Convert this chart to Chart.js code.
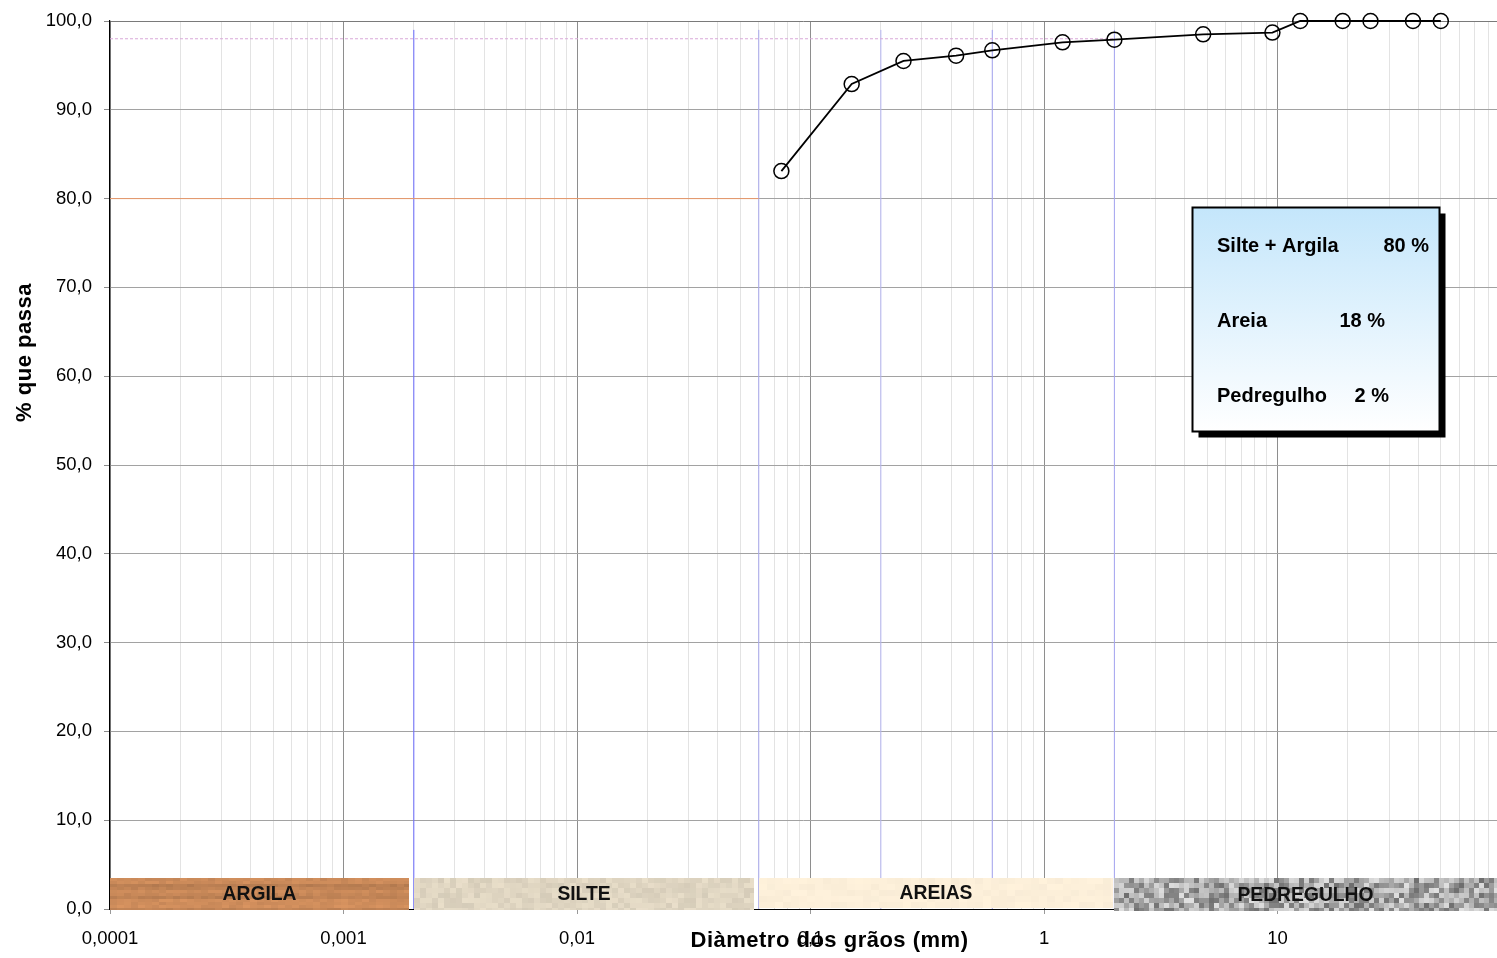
<!DOCTYPE html>
<html><head><meta charset="utf-8">
<script src="https://cdn.jsdelivr.net/npm/chart.js@4.4.0/dist/chart.umd.min.js"></script>
<style>html,body{margin:0;padding:0;background:#fff;overflow:hidden}canvas{display:block}</style>
</head><body>
<canvas id="c" width="1497" height="958"></canvas>
<script>
// ---- data ----
const sieveSizes = [0.075, 0.15, 0.25, 0.42, 0.6, 1.2, 2.0, 4.8, 9.5, 12.5, 19, 25, 38, 50];
const percentPassing = [83.1, 92.9, 95.5, 96.1, 96.7, 97.6, 97.9, 98.5, 98.7, 100, 100, 100, 100, 100];
const decadeValues = [0.0001, 0.001, 0.01, 0.1, 1, 10];
const decadeLabels = ['0,0001', '0,001', '0,01', '0,1', '1', '10'];
const xMin = 0.0001, xMax = 87;
const yMin = 0, yMax = 100, yStep = 10;
const boundaryLines = [0.002, 0.06, 0.2, 0.6, 2.0];
const boundaryTop = 99;
const finesLevel = 80, finesLineEnd = 0.06;
const refLevel = 98, refLineEnd = 2.0;
const bandNames = ['ARGILA', 'SILTE', 'AREIAS', 'PEDREGULHO'];
const bandFrom = [0.0001, 0.002, 0.06, 2.0];
const bandTo = [0.0019, 0.057, 1.97, 87];
const bandTop = 3.5;
const legendLabels = ['Silte + Argila', 'Areia', 'Pedregulho'];
const legendValues = [80, 18, 2];
const xTitle = 'Diàmetro dos grãos (mm)';
const yTitle = '% que passa';

// ---- styles ----
const FONT = '"Liberation Sans", Arial, Helvetica, sans-serif';
const boundaryColors = ['#6b6bff', '#a9a9ee', '#b8b8f4', '#a4a4f2', '#a4a4f2'];
const bandStyle = [
  {base: [201, 137, 89], bw: 7, bh: 3, kind: 'wood', bottomOff: 1},
  {base: [223, 213, 193], bw: 6, bh: 5, kind: 'noise', amp: 0.09, bottomOff: 1},
  {base: [252, 239, 217], bw: 8, bh: 6, kind: 'noise', amp: 0.025, bottomOff: -1},
  {base: [0, 0, 0], bw: 5, bh: 5, kind: 'gravel', bottomOff: 2}
];
function hash(i, j, s) {
  const v = Math.sin(i * 127.1 + j * 311.7 + s * 74.7) * 43758.5453;
  return v - Math.floor(v);
}
function isDecade(v) { return decadeValues.findIndex(d => Math.abs(v / d - 1) < 1e-6); }

const bandsPlugin = {
  id: 'bands',
  afterDatasetsDraw(chart) {
    const {ctx, scales: {x, y}, chartArea} = chart;
    ctx.save();
    bandNames.forEach((name, b) => {
      const st = bandStyle[b];
      const x0 = Math.round(x.getPixelForValue(bandFrom[b]));
      const x1 = Math.min(Math.round(x.getPixelForValue(bandTo[b])), chartArea.right);
      const y0 = Math.round(y.getPixelForValue(bandTop));
      const y1 = Math.round(y.getPixelForValue(0)) + st.bottomOff;
      for (let r = 0, yy = y0; yy < y1; r++, yy += st.bh) {
        const rowF = 0.9 + 0.16 * hash(r, 3, b + 1);
        for (let c = 0, xx = x0; xx < x1; c++, xx += st.bw) {
          const h = hash(c, r, b + 7);
          let col;
          if (st.kind === 'wood') {
            const f = rowF * (0.96 + 0.08 * h);
            col = st.base.map(v => Math.max(0, Math.min(255, Math.round(v * f))));
          } else if (st.kind === 'noise') {
            const f = 1 - st.amp / 2 + st.amp * h;
            col = st.base.map(v => Math.max(0, Math.min(255, Math.round(v * f))));
          } else {
            const g = Math.round(110 + 115 * h);
            col = [g, g, g];
          }
          ctx.fillStyle = `rgb(${col[0]},${col[1]},${col[2]})`;
          ctx.fillRect(xx, yy, Math.min(st.bw, x1 - xx), Math.min(st.bh, y1 - yy));
        }
      }
      ctx.font = `bold 19.3px ${FONT}`;
      ctx.fillStyle = '#111';
      ctx.textAlign = 'center';
      ctx.textBaseline = 'middle';
      ctx.fillText(name, (x0 + x1) / 2, (y0 + y1) / 2 + 1);
    });
    // legend box
    const bx = 1192.5, by = 207.5, bw = 247, bh = 224;
    ctx.fillStyle = '#000';
    ctx.fillRect(bx + 6, by + 6, bw, bh);
    const grad = ctx.createLinearGradient(0, by, 0, by + bh);
    grad.addColorStop(0, '#c4e6fb');
    grad.addColorStop(1, '#ffffff');
    ctx.fillStyle = grad;
    ctx.fillRect(bx, by, bw, bh);
    ctx.lineWidth = 2;
    ctx.strokeStyle = '#000';
    ctx.strokeRect(bx, by, bw, bh);
    ctx.font = `bold 20px ${FONT}`;
    ctx.fillStyle = '#000';
    ctx.textBaseline = 'alphabetic';
    const rowsY = [252, 327, 402];
    const valRight = [1429, 1385, 1389];
    legendLabels.forEach((lab, i) => {
      ctx.textAlign = 'left';
      ctx.fillText(lab, 1217, rowsY[i]);
      ctx.textAlign = 'right';
      ctx.fillText(legendValues[i] + ' %', valRight[i], rowsY[i]);
    });
    ctx.restore();
  },
  afterDraw(chart) {
    const {ctx} = chart;
    ctx.save();
    ctx.fillStyle = '#000';
    ctx.font = `bold 22px ${FONT}`;
    try { ctx.letterSpacing = '0.5px'; } catch (e) {}
    ctx.textBaseline = 'alphabetic';
    ctx.textAlign = 'left';
    const wX = ctx.measureText(xTitle).width;
    ctx.fillText(xTitle, 829.5 - wX / 2, 947);
    ctx.translate(25, 352.5);
    ctx.rotate(-Math.PI / 2);
    ctx.textBaseline = 'middle';
    const wY = ctx.measureText(yTitle).width;
    ctx.fillText(yTitle, -wY / 2, 0);
    ctx.restore();
  }
};

const datasets = [{
  data: sieveSizes.map((s, i) => ({x: s, y: percentPassing[i]})),
  showLine: true, borderColor: '#000', borderWidth: 1.8,
  pointRadius: 7.5, pointBorderWidth: 1.5, pointBackgroundColor: 'rgba(0,0,0,0)',
  pointBorderColor: '#000', clip: false, tension: 0
}, {
  data: [{x: xMin, y: refLevel}, {x: refLineEnd, y: refLevel}],
  showLine: true, borderColor: '#d9a8d9', borderWidth: 1, borderDash: [3, 2], pointRadius: 0
}, {
  data: [{x: xMin, y: finesLevel}, {x: finesLineEnd, y: finesLevel}],
  showLine: true, borderColor: '#ea9a6c', borderWidth: 1, pointRadius: 0
}];
boundaryLines.forEach((v, i) => datasets.push({
  data: [{x: v, y: 0}, {x: v, y: boundaryTop}],
  showLine: true, borderColor: boundaryColors[i], borderWidth: 1, pointRadius: 0
}));

new Chart(document.getElementById('c'), {
  type: 'scatter',
  data: {datasets},
  plugins: [bandsPlugin],
  options: {
    responsive: false, animation: false, devicePixelRatio: 1,
    layout: {autoPadding: false, padding: {top: 21, right: 0, left: 0, bottom: 0}},
    plugins: {legend: {display: false}, tooltip: {enabled: false}},
    scales: {
      x: {
        type: 'logarithmic', min: xMin, max: xMax,
        afterFit(s) { s.height = 49; s.paddingLeft = 0; s.paddingRight = 0; },
        afterBuildTicks(s) {
          const t = [];
          decadeValues.forEach(d => { for (let k = 1; k <= 9; k++) { const v = k * d; if (v <= xMax * 1.0001) t.push({value: v}); } });
          s.ticks = t;
        },
        ticks: {
          autoSkip: false, maxRotation: 0, minRotation: 0, padding: 14, color: '#000',
          font: {family: FONT, size: 18.5},
          callback(v) { const i = isDecade(v); return i >= 0 ? decadeLabels[i] : ''; }
        },
        grid: {
          color: c => (c.tick && isDecade(c.tick.value) >= 0) ? '#8e8e8e' : '#e3e3e3',
          tickColor: c => (c.tick && isDecade(c.tick.value) >= 0) ? '#999' : 'rgba(0,0,0,0)',
          tickLength: 5, lineWidth: 1
        },
        border: {color: '#000', width: 1}
      },
      y: {
        min: yMin, max: yMax,
        afterFit(s) { s.width = 110; s.paddingTop = 0; s.paddingBottom = 0; },
        ticks: {
          stepSize: yStep, padding: 12, color: '#000',
          font: {family: FONT, size: 18.5},
          callback: v => v.toFixed(1).replace('.', ',')
        },
        grid: {
          color: c => (c.tick && c.tick.value === yMax) ? '#7a7a7a' : '#a2a2a2',
          tickColor: '#8a8a8a', tickLength: 6, lineWidth: 1
        },
        border: {color: '#000', width: 1.2}
      }
    }
  }
});
</script>
</body></html>
